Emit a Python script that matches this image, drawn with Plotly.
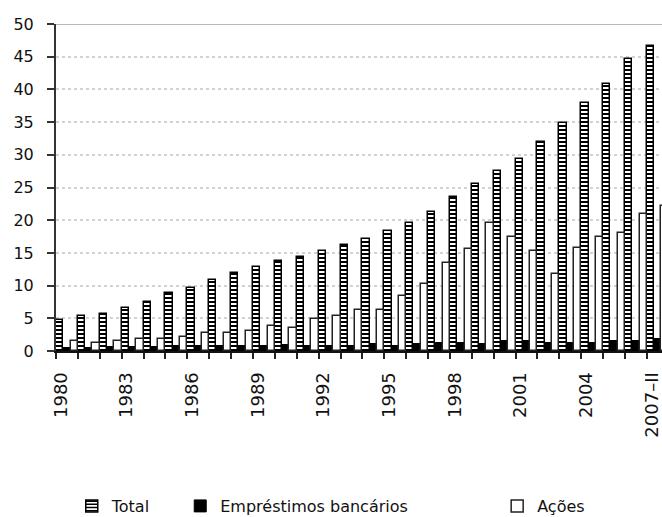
import plotly.graph_objects as go

# Years on the category axis (last point is the 2nd quarter of 2007)
categories = [str(y) for y in range(1980, 2007)] + ["2007–II"]
tick_labels = [c if i % 3 == 0 else "" for i, c in enumerate(categories)]

# Series values
total = [4.8, 5.3, 5.6, 6.6, 7.5, 8.8, 9.7, 10.9, 11.9, 12.9, 13.8, 14.4, 15.3, 16.2,
         17.1, 18.4, 19.6, 21.2, 23.5, 25.6, 27.5, 29.4, 31.9, 34.8, 37.9, 40.9, 44.7, 46.6]
emprestimos = [0.4, 0.5, 0.6, 0.6, 0.6, 0.7, 0.7, 0.8, 0.8, 0.8, 0.9, 0.8, 0.7, 0.7,
               1.0, 0.8, 1.0, 1.3, 1.2, 1.1, 1.6, 1.5, 1.2, 1.2, 1.2, 1.6, 1.5, 1.9]
acoes = [1.5, 1.2, 1.5, 1.85, 1.85, 2.15, 2.75, 2.8, 3.05, 3.8, 3.5, 4.9, 5.35, 6.2,
         6.25, 8.4, 10.3, 13.5, 15.6, 19.6, 17.5, 15.3, 11.85, 15.7, 17.45, 18.1, 20.9, 22.1]

FONT = "DejaVu Sans"
INK = "#111111"

fig = go.Figure()
fig.add_bar(
    x=categories, y=total, name="Total", legend="legend",
    marker=dict(
        color="white",
        line=dict(color="black", width=1.5),
        pattern=dict(shape="-", size=4, solidity=0.5, fgcolor="black",
                     bgcolor="white", fillmode="replace"),
    ),
)
fig.add_bar(
    x=categories, y=emprestimos, name="Empréstimos bancários", legend="legend2",
    marker=dict(color="black", line=dict(color="black", width=1)),
)
fig.add_bar(
    x=categories, y=acoes, name="Ações", legend="legend3",
    marker=dict(color="white", line=dict(color="#222222", width=1.5)),
)

legend_common = dict(
    orientation="h", yanchor="middle", y=-0.474, xanchor="left",
    font=dict(family=FONT, size=16, color=INK), bgcolor="rgba(0,0,0,0)",
)

fig.update_layout(
    width=662, height=517,
    margin=dict(l=56, r=0, t=24, b=166, autoexpand=False),
    paper_bgcolor="white", plot_bgcolor="white",
    barmode="group", bargap=0, bargroupgap=0,
    font=dict(family=FONT, color=INK),
    showlegend=True,
    legend=dict(x=0.026, **legend_common),
    legend2=dict(x=0.205, **legend_common),
    legend3=dict(x=0.728, **legend_common),
    xaxis=dict(
        type="category", categoryorder="array", categoryarray=categories,
        range=[-0.5, 27.19],
        tickmode="array", tickvals=categories, ticktext=tick_labels,
        tickangle=-90, tickson="boundaries",
        ticks="outside", ticklen=6, tickwidth=1.5, tickcolor="#222222",
        showline=True, linecolor="#111111", linewidth=2,
        showgrid=False, zeroline=False,
        tickfont=dict(family=FONT, size=18, color=INK),
        ticklabelshift=-6, ticklabelstandoff=12,
    ),
    yaxis=dict(
        range=[0, 50], tickmode="array", tickvals=list(range(0, 51, 5)),
        ticks="outside", ticklen=7, tickwidth=1.5, tickcolor="#333333",
        showline=True, linecolor="#333333", linewidth=2,
        showgrid=True, gridcolor="#d2d2d2", griddash="dot", gridwidth=1.5,
        zeroline=False,
        tickfont=dict(family=FONT, size=16, color=INK),
        ticklabelstandoff=10,
    ),
    shapes=[dict(type="line", xref="paper", yref="y", x0=0, x1=1, y0=50, y1=50,
                 line=dict(color="#a0a0a0", width=1.5))],
)

fig.write_html("out.html")
